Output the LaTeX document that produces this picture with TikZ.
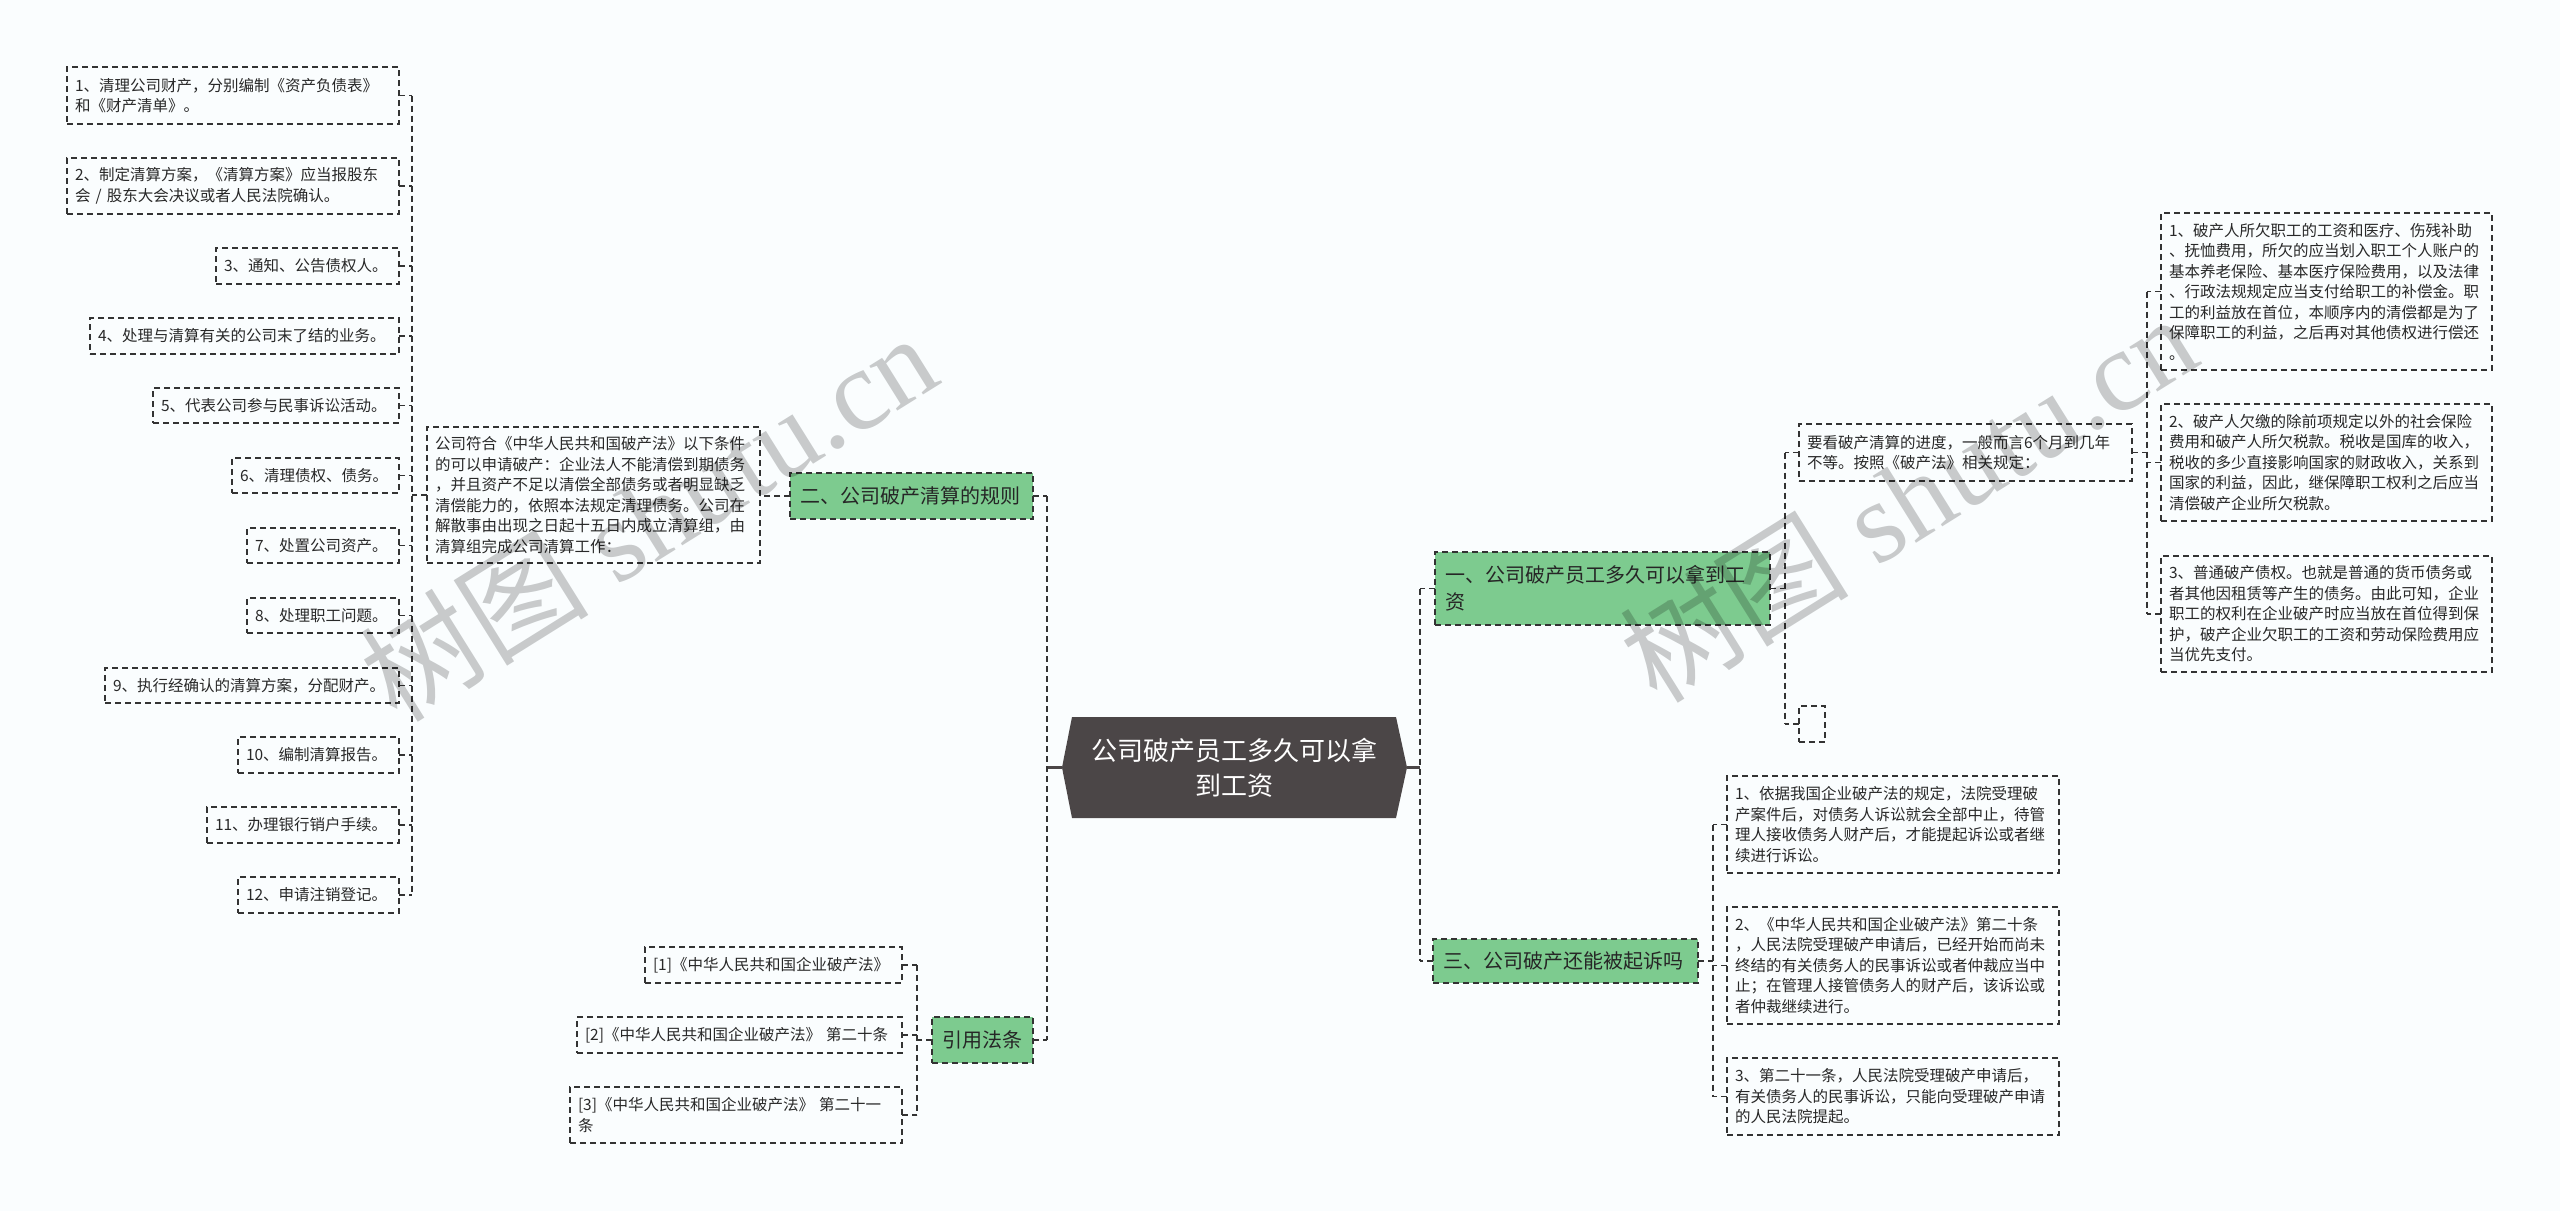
\documentclass[tikz,border=0pt]{standalone}
\usepackage{fontspec}
\usetikzlibrary{calc}
\setmainfont{Noto Sans CJK SC}
\newfontfamily\wmserif{Liberation Serif}
\definecolor{bgc}{RGB}{250,253,254}
\definecolor{linec}{RGB}{51,51,51}
\definecolor{textc}{RGB}{40,40,40}
\definecolor{greenc}{RGB}{125,203,143}
\definecolor{rootc}{RGB}{75,70,71}
\tikzset{
  leaf/.style={draw=linec, line width=1.4pt, dash pattern=on 6pt off 4pt, anchor=north west,
    inner xsep=8pt, inner ysep=0pt, outer sep=0pt, align=left, text=textc,
    font=\fontsize{15.5pt}{20.5pt}\selectfont},
  gbox/.style={leaf, fill=greenc, text=black!85, font=\fontsize{20pt}{27pt}\selectfont, inner xsep=10pt},
  conn/.style={draw=linec, line width=1.4pt, dash pattern=on 6pt off 4pt},
  stub/.style={draw=rootc, line width=2.5pt},
  wm/.style={text=black, text opacity=0.2, rotate=32, anchor=base, font=\fontsize{115pt}{115pt}\selectfont, inner sep=0pt},
  wmlat/.style={wm, font=\fontsize{115pt}{115pt}\selectfont\wmserif}
}
\newcommand\wmark[3]{%
  \foreach \c/\d [count=\k] in {树/-265.3,图/-150.3} {
    \node[wm] (#3c\k) at ($(#1,#2)+({0.848*(\d)},{-0.530*(\d)})$) {\c};
  }
  \foreach \c/\d [count=\k] in {s/-41.4,h/9.7,u/67.2,t/111.9,u/156.7,./199.8,c/239.7,n/294} {
    \node[wmlat] (#3l\k) at ($(#1,#2)+({0.848*(\d)},{-0.530*(\d)})$) {\c};
  }
}
\begin{document}
\begin{tikzpicture}[x=1pt,y=-1pt]
\fill[bgc] (0,0) rectangle (2560,1211);
\useasboundingbox (0,0) rectangle (2560,1211);

% left leaves
\node[leaf, text width=316pt, minimum height=57pt] (b1) at (67,67) {1、清理公司财产，分别编制《资产负债表》\\和《财产清单》。};
\node[leaf, text width=316pt, minimum height=56pt] (b2) at (67,158) {2、制定清算方案，《清算方案》应当报股东\\会 / 股东大会决议或者人民法院确认。};
\node[leaf, text width=167pt, minimum height=36pt] (b3) at (216,248) {3、通知、公告债权人。};
\node[leaf, text width=293pt, minimum height=36pt] (b4) at (90,318) {4、处理与清算有关的公司末了结的业务。};
\node[leaf, text width=230pt, minimum height=35pt] (b5) at (153,388) {5、代表公司参与民事诉讼活动。};
\node[leaf, text width=151pt, minimum height=35pt] (b6) at (232,458) {6、清理债权、债务。};
\node[leaf, text width=136pt, minimum height=35pt] (b7) at (247,528) {7、处置公司资产。};
\node[leaf, text width=136pt, minimum height=35pt] (b8) at (247,598) {8、处理职工问题。};
\node[leaf, text width=278pt, minimum height=35pt] (b9) at (105,668) {9、执行经确认的清算方案，分配财产。};
\node[leaf, text width=145pt, minimum height=36pt] (b10) at (238,737) {10、编制清算报告。};
\node[leaf, text width=176pt, minimum height=36pt] (b11) at (207,807) {11、办理银行销户手续。};
\node[leaf, text width=145pt, minimum height=36pt] (b12) at (238,877) {12、申请注销登记。};

\node[leaf, text width=317pt, minimum height=136pt] (desc) at (427,427) {公司符合《中华人民共和国破产法》以下条件\\的可以申请破产：企业法人不能清偿到期债务\\，并且资产不足以清偿全部债务或者明显缺乏\\清偿能力的，依照本法规定清理债务。公司在\\解散事由出现之日起十五日内成立清算组，由\\清算组完成公司清算工作：};

\node[gbox, text width=223pt, minimum height=46pt] (er) at (790,473) {二、公司破产清算的规则};
\node[gbox, text width=81pt, minimum height=46pt] (yy) at (932,1017) {引用法条};

\node[leaf, text width=241pt, minimum height=36pt] (c1) at (645,947) {[1]《中华人民共和国企业破产法》};
\node[leaf, text width=309pt, minimum height=36pt] (c2) at (577,1017) {[2]《中华人民共和国企业破产法》 第二十条};
\node[leaf, text width=316pt, minimum height=56pt] (c3) at (570,1087) {[3]《中华人民共和国企业破产法》 第二十一\\条};

% root
\fill[rootc] (1062,767.5) -- (1072,717) -- (1396,717) -- (1407,767.5) -- (1396,818) -- (1072,818) -- cycle;
\node[minimum width=345pt, minimum height=101pt, inner sep=0pt, outer sep=0pt, align=center, text=white,
  font=\fontsize{26pt}{35pt}\selectfont] (root) at (1234.5,767.5) {公司破产员工多久可以拿\\到工资};

% right side
\node[gbox, text width=315pt, minimum height=73pt] (yi) at (1435,552) {一、公司破产员工多久可以拿到工\\资};
\node[gbox, text width=245pt, minimum height=44pt] (san) at (1433,939) {三、公司破产还能被起诉吗};

\node[leaf, text width=317pt, minimum height=57pt] (yk) at (1799,424) {要看破产清算的进度，一般而言6个月到几年\\不等。按照《破产法》相关规定：};
\node[leaf, text width=10pt, minimum height=36pt] (em) at (1799,706) {};

\node[leaf, text width=315pt, minimum height=157pt] (r1) at (2161,213) {1、破产人所欠职工的工资和医疗、伤残补助\\、抚恤费用，所欠的应当划入职工个人账户的\\基本养老保险、基本医疗保险费用，以及法律\\、行政法规规定应当支付给职工的补偿金。职\\工的利益放在首位，本顺序内的清偿都是为了\\保障职工的利益，之后再对其他债权进行偿还\\。};
\node[leaf, text width=315pt, minimum height=117pt] (r2) at (2161,404) {2、破产人欠缴的除前项规定以外的社会保险\\费用和破产人所欠税款。税收是国库的收入，\\税收的多少直接影响国家的财政收入，关系到\\国家的利益，因此，继保障职工权利之后应当\\清偿破产企业所欠税款。};
\node[leaf, text width=315pt, minimum height=116pt] (r3) at (2161,556) {3、普通破产债权。也就是普通的货币债务或\\者其他因租赁等产生的债务。由此可知，企业\\职工的权利在企业破产时应当放在首位得到保\\护，破产企业欠职工的工资和劳动保险费用应\\当优先支付。};

\node[leaf, text width=316pt, minimum height=97pt] (s1) at (1727,776) {1、依据我国企业破产法的规定，法院受理破\\产案件后，对债务人诉讼就会全部中止，待管\\理人接收债务人财产后，才能提起诉讼或者继\\续进行诉讼。};
\node[leaf, text width=316pt, minimum height=117pt] (s2) at (1727,907) {2、《中华人民共和国企业破产法》第二十条\\，人民法院受理破产申请后，已经开始而尚未\\终结的有关债务人的民事诉讼或者仲裁应当中\\止；在管理人接管债务人的财产后，该诉讼或\\者仲裁继续进行。};
\node[leaf, text width=316pt, minimum height=77pt] (s3) at (1727,1058) {3、第二十一条，人民法院受理破产申请后，\\有关债务人的民事诉讼，只能向受理破产申请\\的人民法院提起。};

% connectors: left cluster
\coordinate (lv) at (412,495);
\draw[conn] (desc.west) -- (lv);
\draw[conn] (lv |- b1.east) -- (lv |- b12.east);
\foreach \i in {1,...,12} { \draw[conn] (b\i.east) -- (lv |- b\i.east); }
\draw[conn] (er.west) -- (er.west -| desc.east);

% root left
\coordinate (rl) at (1047,767.5);
\draw[stub] (root.west) -- (rl);
\draw[conn] (rl |- er.east) -- (rl |- yy.east);
\draw[conn] (er.east) -- (rl |- er.east);
\draw[conn] (yy.east) -- (rl |- yy.east);

% citations
\coordinate (cv) at (917,1040);
\draw[conn] (yy.west) -- (cv);
\draw[conn] (cv |- c1.east) -- (cv |- c3.east);
\foreach \i in {1,2,3} { \draw[conn] (c\i.east) -- (cv |- c\i.east); }

% root right
\coordinate (rr) at (1420,767.5);
\draw[stub] (root.east) -- (rr);
\draw[conn] (rr |- yi.west) -- (rr |- san.west);
\draw[conn] (yi.west) -- (rr |- yi.west);
\draw[conn] (san.west) -- (rr |- san.west);

% yi children
\coordinate (yv) at (1785,588.5);
\draw[conn] (yi.east) -- (yv);
\draw[conn] (yv |- yk.west) -- (yv |- em.west);
\draw[conn] (yk.west) -- (yv |- yk.west);
\draw[conn] (em.west) -- (yv |- em.west);

% yk children
\coordinate (kv) at (2147,452.5);
\draw[conn] (yk.east) -- (kv);
\draw[conn] (kv |- r1.west) -- (kv |- r3.west);
\foreach \i in {1,2,3} { \draw[conn] (r\i.west) -- (kv |- r\i.west); }

% san children
\coordinate (sv) at (1713,961);
\draw[conn] (san.east) -- (sv);
\draw[conn] (sv |- s1.west) -- (sv |- s3.west);
\foreach \i in {1,2,3} { \draw[conn] (s\i.west) -- (sv |- s\i.west); }

% watermarks
\wmark{671}{553}{wma}
\wmark{1931}{534}{wmb}
\end{tikzpicture}
\end{document}
